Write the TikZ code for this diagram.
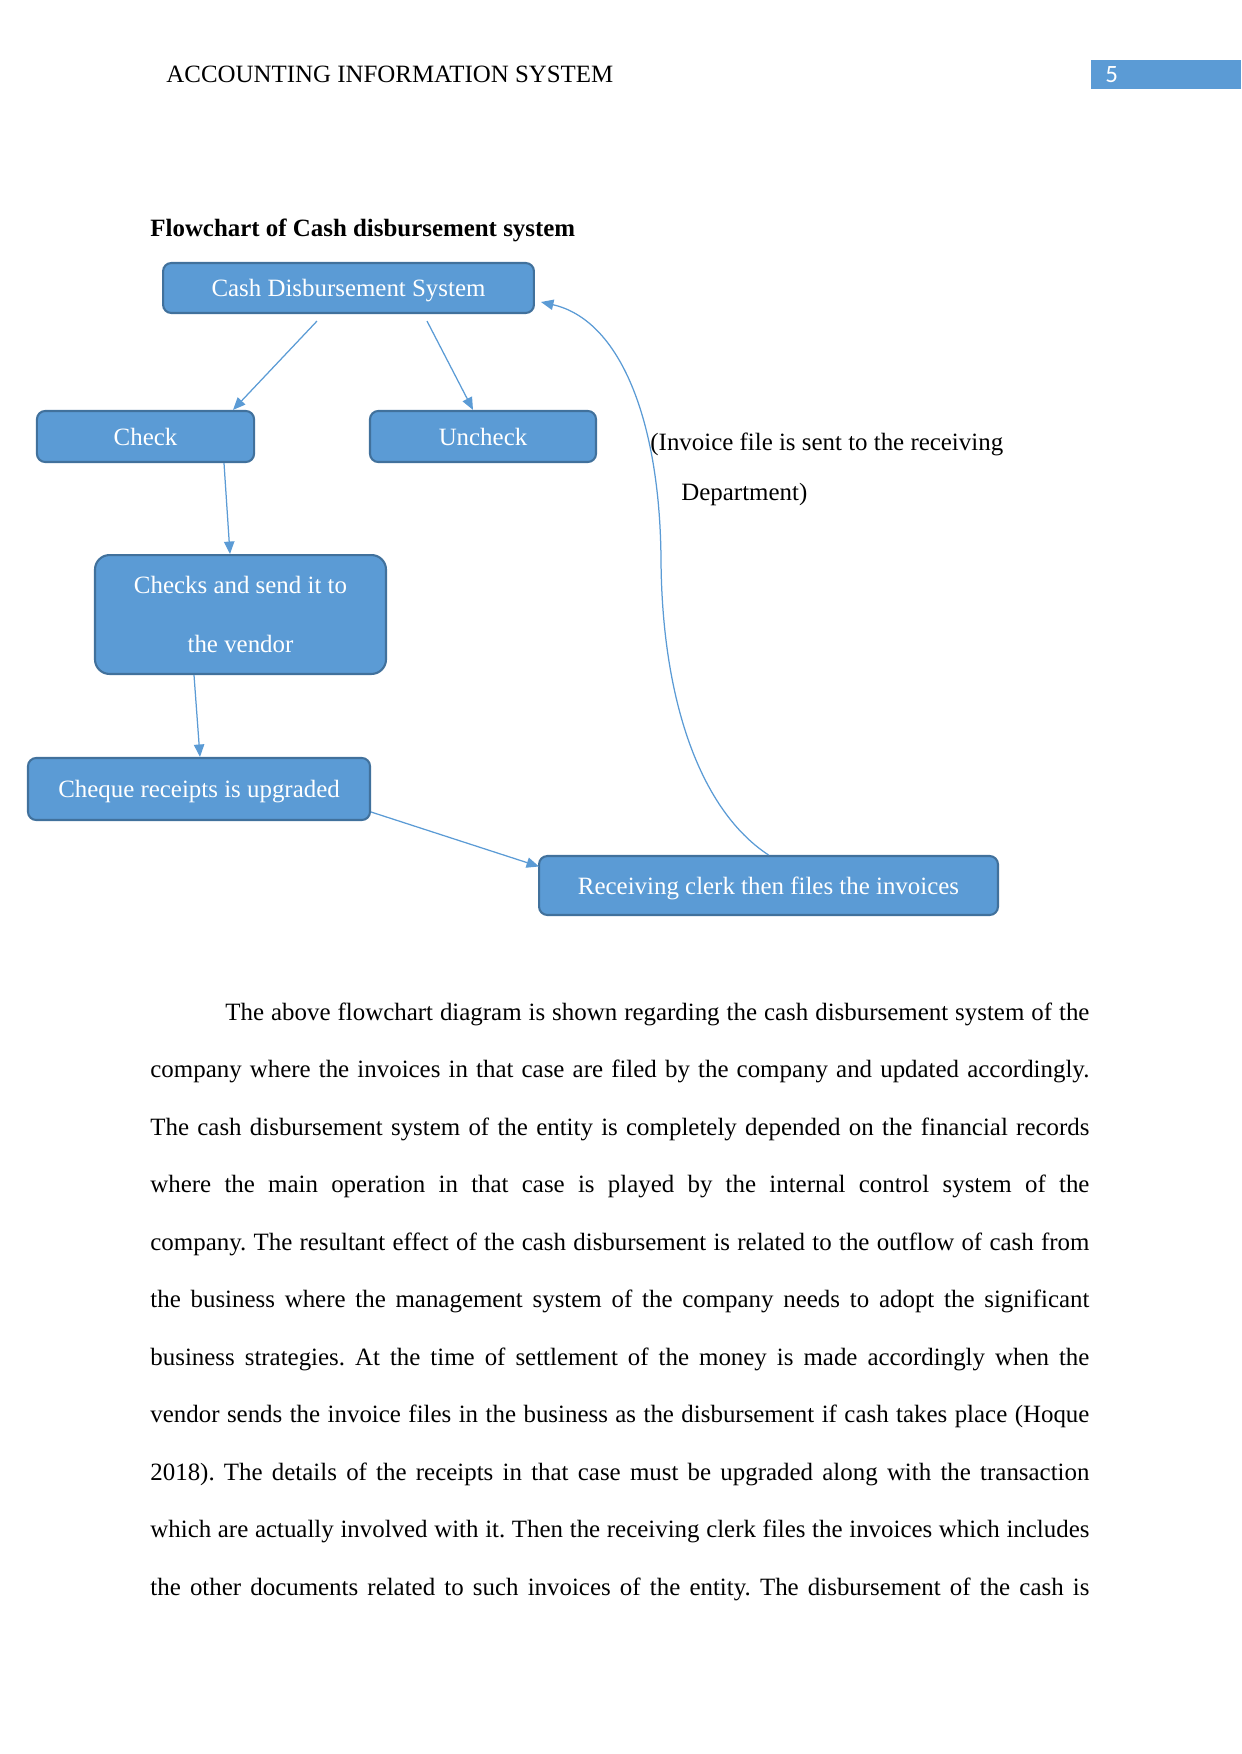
\documentclass[tikz,border=0pt]{standalone}
\usepackage{fontspec}
\setmainfont{Liberation Serif}
\newfontfamily\pnfont{Carlito}
\usetikzlibrary{calc,arrows.meta}
\frenchspacing

\definecolor{boxblue}{HTML}{5B9BD5}
\definecolor{boxedge}{HTML}{41719C}

\tikzset{
  box/.style={draw=boxedge,line width=1pt,fill=boxblue,rounded corners=4pt,
    text=white,inner sep=0pt,text depth=0pt,font=\fontsize{12}{14}\selectfont},
  flow/.style={draw=boxblue,line width=0.6pt,-{Triangle[length=6pt,width=5pt]}},
  plain/.style={anchor=base west,inner sep=0pt,font=\fontsize{12}{14}\selectfont},
}

\begin{document}
\begin{tikzpicture}[x=0.4818pt,y=-0.4818pt]
  \useasboundingbox (0,0) rectangle (1241,1754);
  % Page header
  \node[plain] (header) at (166,83) {ACCOUNTING INFORMATION SYSTEM};
  \fill[boxblue] (1091,60) rectangle (1241,89);
  \node[plain,text=white,font=\pnfont\fontsize{12}{14}\selectfont] (pagenum) at (1105,83) {5};
  \node[plain,font=\bfseries\fontsize{12}{14}\selectfont] (title) at (150,237) {Flowchart of Cash disbursement system};
  % Boxes
  \node[box,minimum width=178.7pt,minimum height=24.1pt] (cds) at (348.5,288) {Cash Disbursement System};
  \node[box,minimum width=104.6pt,minimum height=24.6pt] (check) at (145.5,436.5) {Check};
  \node[box,minimum width=108.9pt,minimum height=24.6pt] (uncheck) at (483,436.5) {Uncheck};
  \node[box,rounded corners=7pt,minimum width=140.2pt,minimum height=57.3pt,align=center,
    font=\fontsize{12}{28.4}\selectfont] (checks) at (240.5,614.5) {Checks and send it to\\the vendor};
  \node[box,minimum width=164.8pt,minimum height=29.9pt] (cheque) at (199,789) {Cheque receipts is upgraded};
  \node[box,minimum width=221.1pt,minimum height=28.4pt] (clerk) at (768.5,885.5) {Receiving clerk then files the invoices};
  % Note beside the return arrow
  \node[plain] (note1) at (650,450) {(Invoice file is sent to the receiving};
  \node[plain] (note2) at (681,500) {Department)};
  % Connectors
  \draw[flow] ($(cds.south)+(-31.5,7)$) -- ($(check.north)+(87.5,0)$);
  \draw[flow] ($(cds.south)+(78.5,7)$) -- ($(uncheck.north)+(-10,0)$);
  \draw[flow] ($(check.south)+(78.5,0)$) -- ($(checks.north)+(-10.5,0)$);
  \draw[flow] ($(checks.south)+(-46.5,0)$) -- ($(cheque.north)+(1,0)$);
  \draw[flow] ($(cheque.east)+(0,23)$) -- ($(clerk.west)+(1,-19)$);
  \draw[flow] (clerk.north) .. controls (700,810) and (662,700) .. (661,560)
    .. controls (660,420) and (620,320) .. ($(cds.east)+(6,14)$);
  % Body text
  \node[plain] (line1) at (225,1020) {\makebox[416.3pt][s]{The above flowchart diagram is shown regarding the cash disbursement system of the}};
  \node[plain] (line2) at (150,1077.5) {\makebox[452.4pt][s]{company where the invoices in that case are filed by the company and updated accordingly.}};
  \node[plain] (line3) at (150,1135) {\makebox[452.4pt][s]{The cash disbursement system of the entity is completely depended on the financial records}};
  \node[plain] (line4) at (150,1192.5) {\makebox[452.4pt][s]{where the main operation in that case is played by the internal control system of the}};
  \node[plain] (line5) at (150,1250) {\makebox[452.4pt][s]{company. The resultant effect of the cash disbursement is related to the outflow of cash from}};
  \node[plain] (line6) at (150,1307.5) {\makebox[452.4pt][s]{the business where the management system of the company needs to adopt the significant}};
  \node[plain] (line7) at (150,1365) {\makebox[452.4pt][s]{business strategies. At the time of settlement of the money is made accordingly when the}};
  \node[plain] (line8) at (150,1422.5) {\makebox[452.4pt][s]{vendor sends the invoice files in the business as the disbursement if cash takes place (Hoque}};
  \node[plain] (line9) at (150,1480) {\makebox[452.4pt][s]{2018). The details of the receipts in that case must be upgraded along with the transaction}};
  \node[plain] (line10) at (150,1537.5) {\makebox[452.4pt][s]{which are actually involved with it. Then the receiving clerk files the invoices which includes}};
  \node[plain] (line11) at (150,1595) {\makebox[452.4pt][s]{the other documents related to such invoices of the entity. The disbursement of the cash is}};
\end{tikzpicture}
\end{document}
